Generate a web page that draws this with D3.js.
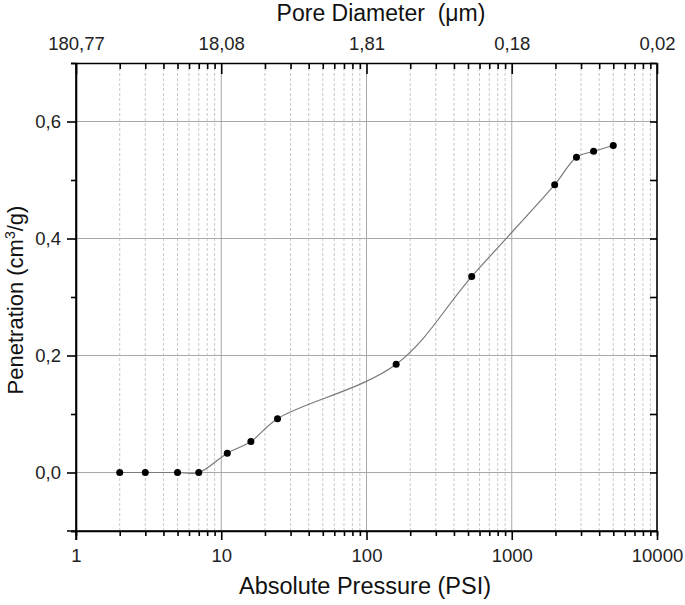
<!DOCTYPE html>
<html>
<head>
<meta charset="utf-8">
<script src="https://cdn.jsdelivr.net/npm/d3@7"></script>
<style>
    body { margin: 0; background: #fff; }
    svg { font-family: "Liberation Sans", Arial, sans-serif; }
    .grid-major line { stroke: #a8a8a8; stroke-width: 1; }
    .grid-minor line { stroke: #c8c8c8; stroke-width: 1; stroke-dasharray: 3,2; }
    .axis path, .axis line { stroke: #000; stroke-width: 1.6; }
    .axis text { fill: #222; font-size: 18.5px; }
    .title { fill: #111; }
</style>
</head>
<body>
<script>
// pressure (PSI) vs cumulative penetration (cm3/g)
var pressure = [2, 3, 5, 7, 11, 16, 24.4, 160, 530, 1975, 2790, 3660, 5000];
var penetration = [0, 0, 0, 0, 0.033, 0.053, 0.092, 0.185, 0.335, 0.492, 0.539, 0.549, 0.559];

var xMajor = [1, 10, 100, 1000, 10000];
var xMajorLabels = ["1", "10", "100", "1000", "10000"];
var poreLabels = ["180,77", "18,08", "1,81", "0,18", "0,02"];
var yMajor = [0, 0.2, 0.4, 0.6];
var yMajorLabels = ["0,0", "0,2", "0,4", "0,6"];
var yMinor = [-0.1, 0.1, 0.3, 0.5, 0.7];

window.onload = (event) => {
    drawChart();
};

function drawChart() {
    var width = 685,
        height = 605,
        margin = {top: 63, right: 28, bottom: 74, left: 76};

    var svg = d3.select("body")
        .append("svg")
        .attr("width", width)
        .attr("height", height);

    var x = d3.scaleLog()
        .domain([1, 10000])
        .range([margin.left, width - margin.right]);

    var y = d3.scaleLinear()
        .domain([-0.1, 0.7])
        .range([height - margin.bottom, margin.top]);

    // minor tick positions: 2..9 in every decade
    var xMinor = [];
    for (var d = 1; d < 10000; d *= 10) {
        for (var k = 2; k <= 9; k++) xMinor.push(d * k);
    }

    var top = y.range()[1], bottom = y.range()[0],
        left = x.range()[0], right = x.range()[1];

    // grid
    svg.append("g").attr("class", "grid-minor")
        .selectAll("line")
        .data(xMinor)
        .enter().append("line")
        .attr("x1", d => x(d)).attr("x2", d => x(d))
        .attr("y1", top).attr("y2", bottom);

    svg.append("g").attr("class", "grid-major")
        .selectAll("line.v")
        .data(xMajor.slice(1, -1))
        .enter().append("line")
        .attr("x1", d => x(d)).attr("x2", d => x(d))
        .attr("y1", top).attr("y2", bottom);

    svg.append("g").attr("class", "grid-major")
        .selectAll("line.h")
        .data(yMajor)
        .enter().append("line")
        .attr("x1", left).attr("x2", right)
        .attr("y1", d => y(d)).attr("y2", d => y(d));

    // bottom axis
    svg.append("g").attr("class", "axis")
        .attr("transform", "translate(0," + bottom + ")")
        .call(d3.axisBottom(x).tickValues(xMinor).tickSize(5).tickFormat(""));
    svg.append("g").attr("class", "axis")
        .attr("transform", "translate(0," + bottom + ")")
        .call(d3.axisBottom(x).tickValues(xMajor).tickSize(9).tickPadding(9)
            .tickFormat((d, i) => xMajorLabels[i]))
        .call(g => g.select(".domain").attr("d", "M" + (left - 9) + ",0H" + right));

    // top axis (pore diameter), ticks inward
    svg.append("g").attr("class", "axis")
        .attr("transform", "translate(0," + top + ")")
        .call(d3.axisBottom(x).tickValues(xMinor).tickSize(6).tickFormat(""))
        .call(g => g.select(".domain").remove());
    var topAxis = svg.append("g").attr("class", "axis")
        .attr("transform", "translate(0," + top + ")")
        .call(d3.axisTop(x).tickValues(xMajor).tickSize(0).tickPadding(13)
            .tickFormat((d, i) => poreLabels[i]));
    topAxis.selectAll(".tick").append("line")
        .attr("y2", 11);

    // left axis
    svg.append("g").attr("class", "axis")
        .attr("transform", "translate(" + left + ",0)")
        .call(d3.axisLeft(y).tickValues(yMinor).tickSize(5).tickFormat(""));
    svg.append("g").attr("class", "axis")
        .attr("transform", "translate(" + left + ",0)")
        .call(d3.axisLeft(y).tickValues(yMajor).tickSize(9).tickPadding(6)
            .tickFormat((d, i) => yMajorLabels[i]))
        .call(g => g.select(".domain").attr("d", "M0," + top + "V" + (bottom + 9)));

    // right axis, ticks inward
    svg.append("g").attr("class", "axis")
        .attr("transform", "translate(" + right + ",0)")
        .call(d3.axisLeft(y).tickValues(yMajor.concat(yMinor)).tickSize(7).tickFormat(""))
        .call(g => g.select(".domain").attr("d", "M0," + top + "V" + bottom))
        .call(g => g.selectAll(".tick line").attr("x2", -7));

    // curve and points
    var pts = pressure.map((p, i) => [p, penetration[i]]);

    var line = d3.line()
        .x(d => x(d[0]))
        .y(d => y(d[1]))
        .curve(d3.curveCatmullRom.alpha(0.5));

    svg.append("path")
        .datum(pts)
        .attr("d", line)
        .attr("fill", "none")
        .attr("stroke", "#7a7a7a")
        .attr("stroke-width", 1.2);

    svg.selectAll(".dot")
        .data(pts)
        .enter().append("circle")
        .attr("class", "dot")
        .attr("cx", d => x(d[0]))
        .attr("cy", d => y(d[1]))
        .attr("r", 3.5)
        .attr("fill", "#000");

    // titles
    svg.append("text")
        .attr("class", "title")
        .attr("x", 365)
        .attr("y", 594)
        .attr("text-anchor", "middle")
        .style("font-size", "23.5px")
        .text("Absolute Pressure (PSI)");

    svg.append("text")
        .attr("class", "title")
        .attr("x", 381)
        .attr("y", 21)
        .attr("text-anchor", "middle")
        .style("font-size", "23px")
        .text("Pore Diameter \u00a0(\u03bcm)");

    var yt = svg.append("text")
        .attr("class", "title")
        .attr("transform", "translate(23,300) rotate(-90)")
        .attr("text-anchor", "middle")
        .style("font-size", "22px");
    yt.append("tspan").text("Penetration (cm");
    yt.append("tspan").attr("dy", -8).style("font-size", "14px").text("3");
    yt.append("tspan").attr("dy", 8).text("/g)");
}
</script>
</body>
</html>
